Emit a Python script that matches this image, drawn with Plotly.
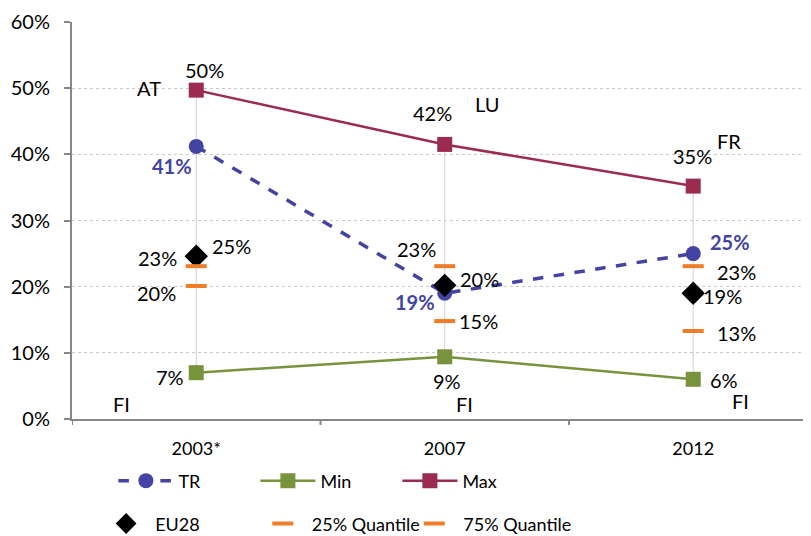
import plotly.graph_objects as go

years = ["2003*", "2007", "2012"]
tr = [0.412, 0.190, 0.250]
mn = [0.070, 0.094, 0.060]
mx = [0.497, 0.415, 0.352]
eu28 = [0.246, 0.202, 0.190]
q25 = [0.201, 0.148, 0.133]
q75 = [0.231, 0.231, 0.231]
min_country = ["FI", "FI", "FI"]
max_country = ["AT", "LU", "FR"]
yticks = [0, 0.1, 0.2, 0.3, 0.4, 0.5, 0.6]

FONT = "Lato"
FS = 20
C_TR = "#4343A3"
C_MIN = "#77933C"
C_MAX = "#9B2B4F"
C_Q = "#F07C28"

xs = [0, 1, 2]
fig = go.Figure()

# high-low lines
hx, hy = [], []
for i in xs:
    hx += [i, i, None]
    hy += [mn[i], mx[i], None]
fig.add_trace(go.Scatter(x=hx, y=hy, mode="lines", line=dict(color="#D0D0D0", width=1),
                         showlegend=False, hoverinfo="skip"))

fig.add_trace(go.Scatter(x=xs, y=tr, name="TR", mode="lines+markers",
                         line=dict(color=C_TR, width=3.5, dash="dash"),
                         marker=dict(symbol="circle", size=15, color=C_TR), legend="legend"))
fig.add_trace(go.Scatter(x=xs, y=mn, name="Min", mode="lines+markers",
                         line=dict(color=C_MIN, width=2.5),
                         marker=dict(symbol="square", size=15, color=C_MIN), legend="legend"))
fig.add_trace(go.Scatter(x=xs, y=mx, name="Max", mode="lines+markers",
                         line=dict(color=C_MAX, width=2.5),
                         marker=dict(symbol="square", size=15, color=C_MAX), legend="legend"))
fig.add_trace(go.Scatter(x=xs, y=eu28, name="EU28", mode="markers",
                         marker=dict(symbol="diamond", size=18, color="black"), legend="legend2"))
fig.add_trace(go.Scatter(x=xs, y=q25, name="25% Quantile", mode="markers",
                         marker=dict(symbol="line-ew-open", size=15, color=C_Q,
                                     line=dict(color=C_Q, width=4)),
                         legend="legend3"))
fig.add_trace(go.Scatter(x=xs, y=q75, name="75% Quantile", mode="markers",
                         marker=dict(symbol="line-ew-open", size=15, color=C_Q,
                                     line=dict(color=C_Q, width=4)),
                         legend="legend4"))

def pct(v):
    return f"{round(v*100):d}%"

ann = []
def lab(x, y, text, dx, dy, color="black", bold=False):
    ann.append(dict(x=x, y=y, xref="x", yref="y", text=f"<b>{text}</b>" if bold else text,
                    showarrow=False, xshift=dx, yshift=dy,
                    font=dict(family=FONT, size=FS, color=color)))

# Max labels
mx_off = [(8, 20), (-12, 31), (-1, 30)]
mxc_off = [(-47, 2), (42, 40), (36, 45)]
for i in xs:
    lab(i, mx[i], pct(mx[i]), *mx_off[i])
    lab(i, mx[i], max_country[i], *mxc_off[i])
# TR labels
tr_off = [(-24, -20), (-30, -9), (37, 12)]
for i in xs:
    lab(i, tr[i], pct(tr[i]), *tr_off[i], color=C_TR, bold=True)
# EU28
eu_off = [(35, 10), (35, 6), (29, -3)]
for i in xs:
    lab(i, eu28[i], pct(eu28[i]), *eu_off[i])
# q75
q75_off = [(-39, 8), (-28, 17), (43, -6)]
for i in xs:
    lab(i, q75[i], pct(q75[i]), *q75_off[i])
# q25
q25_off = [(-40, -7), (34, 0), (43, -2)]
for i in xs:
    lab(i, q25[i], pct(q25[i]), *q25_off[i])
# Min
mn_off = [(-26, -4), (2, -24), (31, -1)]
mnc_off = [(-75, -31), (20, -47), (47, -22)]
for i in xs:
    lab(i, mn[i], pct(mn[i]), *mn_off[i])
    lab(i, mn[i], min_country[i], *mnc_off[i])

leg2 = dict(orientation="h", y=-0.264, xanchor="left", yanchor="middle",
            itemwidth=48, font=dict(size=18), bgcolor="rgba(0,0,0,0)")

# page body has an 8px margin: size/margins compensate so the plot lands where the reference has it
fig.update_layout(
    width=803, height=528,
    margin=dict(l=64, r=0, t=14, b=117, autoexpand=False),
    plot_bgcolor="white", paper_bgcolor="white",
    font=dict(family=FONT, size=FS, color="black"),
    annotations=ann,
    xaxis=dict(range=[-0.5, 2.474], tickmode="array", tickvals=xs, ticktext=years,
               showgrid=False, showline=True, linecolor="#868686", linewidth=2,
               ticks="", tickfont=dict(size=18), ticklabelstandoff=12,
               zeroline=False, automargin=False),
    yaxis=dict(range=[0, 0.6], tickvals=yticks, tickformat=".0%",
               showgrid=True, gridcolor="#C8C8C8", griddash="dot", gridwidth=1,
               showline=True, linecolor="#868686", linewidth=2,
               ticks="outside", ticklen=6, tickcolor="#868686", tickwidth=2,
               tickfont=dict(size=20), ticklabelstandoff=10,
               zeroline=False, automargin=False),
    legend=dict(orientation="h", x=0.056, y=-0.156, xanchor="left", yanchor="middle",
                itemwidth=55, entrywidth=72, font=dict(size=18), bgcolor="rgba(0,0,0,0)"),
    legend2=dict(leg2, x=0.034),
    legend3=dict(leg2, x=0.246),
    legend4=dict(leg2, x=0.451),
)
# x-axis category boundary ticks
for b in [-0.5, 0.5, 1.5]:
    fig.add_shape(type="line", xref="x", yref="paper", x0=b, x1=b, y0=0, y1=-0.015,
                  line=dict(color="#868686", width=2))

fig.write_html("out.html")
